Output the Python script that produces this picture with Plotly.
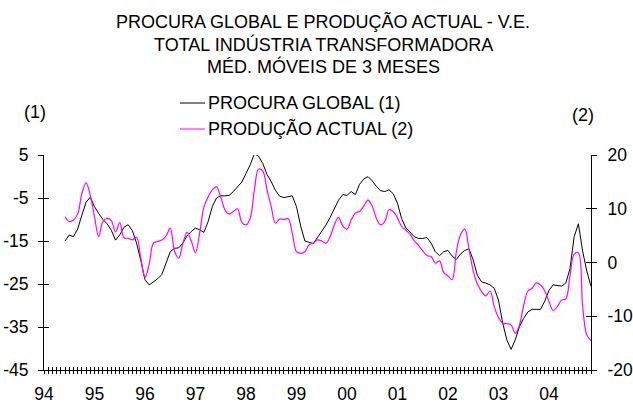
import plotly.graph_objects as go

# months since Jan 1994 (June 1994 .. Nov 2004)
months = list(range(5, 131))

procura_global = [
    -15, -13.6, -14, -12.2, -9, -6, -4.8,
    -7, -8.6, -10, -11, -12.5, -14.8, -13.6, -11.8, -11.2, -12.6, -15.5, -19.5,
    -24, -25.2, -24.5, -23.8, -22.8, -20, -17.5, -16.7, -16.6, -15.5, -13.8, -12.8,
    -12, -12.4, -13, -10.5, -7, -5, -4.5, -4.5, -4.4, -3.5, -2.5, -1.3,
    0.7, 2.7, 5.3, 4.7, 3, 0.5, -1.2, -3.2, -4.6, -4.9, -4.7, -4.5,
    -7, -11.5, -15, -15.3, -15.6, -14.2, -12.8, -11.3, -9.5, -7.5, -5.5, -4.2,
    -4.4, -3.5, -4.2, -1.8, -0.6, 0, -1, -2.3, -3.3, -3.5, -3.1, -4,
    -6.2, -9.8, -12, -12.9, -14, -14.4, -14.4, -14.2, -15.5, -17.5, -18.4, -17.5,
    -17.2, -18.5, -19.3, -18, -17.2, -16.8, -19.4, -23, -24.5, -24.8, -25.2, -26,
    -28.7, -34, -38, -40.2, -38, -34.9, -33, -31.5, -30.9, -30.9, -30.9, -29,
    -26.5, -25.2, -25.3, -25.5, -24.8, -21.5, -14, -11, -17.3, -22, -25.5,
]

producao_actual = [
    8.5, 7.6, 7.9, 9, 12.8, 14.8, 12.5,
    8.5, 4.8, 7.6, 8.2, 7.8, 5.7, 7.4, 4.6, 4.5, 4.2, 4.7, 0.8,
    -2.8, -0.3, 3.6, 3.9, 4.2, 4.9, 6.4, 2.2, 0.8, 3.5, 5.6, 4,
    1.8, 5.5, 10.3, 12.2, 13.5, 14.1, 12.2, 9.8, 9, 9.5, 10, 7.5,
    7, 8.2, 13.5, 17.4, 17, 13.5, 10.4, 7.3, 8.1, 8, 8.2, 5.5,
    2, 1.7, 2, 3.3, 3.6, 4.2, 4, 3.6, 4.8, 7, 8.4, 6.8,
    6.2, 7.9, 9.2, 9.5, 10.5, 11.6, 10.5, 8.2, 7, 7.6, 9.8, 9.5,
    8.3, 6.7, 6, 5.3, 4, 3.2, 2.2, 1.3, 1.1, -0.1, 0.3, -1.9,
    -2.5, -3.2, 2, 5.2, 6.2, 2.5, -1.5, -4, -5.4, -6.2, -5.3, -8.2,
    -10.2, -11.3, -11.4, -11.6, -13.2, -11.6, -8, -5.3, -4.8, -3.8, -4.2, -5.3,
    -7.2, -8.9, -8.2, -7, -6.8, -2.5, 1.5, 1.8, -8, -13.5, -14.5,
]

year_ticks = [0, 12, 24, 36, 48, 60, 72, 84, 96, 108, 120]
year_labels = ["94", "95", "96", "97", "98", "99", "00", "01", "02", "03", "04"]
left_ticks = [5, -5, -15, -25, -35, -45]
left_labels = ["5", "-5", "-15", "-25", "-35", "-45"]
right_ticks = [20, 10, 0, -10, -20]
right_labels = ["20", "10", "0", "-10", "-20"]

title_lines = ["PROCURA GLOBAL E PRODUÇÃO ACTUAL - V.E.",
               "TOTAL INDÚSTRIA TRANSFORMADORA",
               "MÉD. MÓVEIS DE 3 MESES"]
series_names = ["PROCURA GLOBAL (1)", "PRODUÇÃO ACTUAL (2)"]

FONT = "Liberation Sans, Arial, sans-serif"
FS = 18
TFS = 17.5
BLACK = "#000000"
MAGENTA = "#FF00FF"

W, H = 633, 403
# plot area in screen pixels: x 44..591, y 155..370
L = 44
R = W - 591
T = 155
B = H - 370
PW, PH = W - L - R, H - T - B


def px(xs):
    return (xs - L) / PW


def py(ys):
    return (H - B - ys) / PH


fig = go.Figure()
fig.add_trace(go.Scatter(x=months, y=procura_global, mode="lines",
                         line=dict(color=BLACK, width=1), name=series_names[0],
                         showlegend=False, hoverinfo="skip"))
fig.add_trace(go.Scatter(x=months, y=producao_actual, mode="lines", yaxis="y2",
                         line=dict(color=MAGENTA, width=1.2, shape="spline", smoothing=1),
                         name=series_names[1], showlegend=False, hoverinfo="skip"))
# empty helper traces so overlay axes (inner half of crossing ticks) are drawn
fig.add_trace(go.Scatter(x=[None], y=[None], xaxis="x2", yaxis="y", showlegend=False, hoverinfo="skip"))
fig.add_trace(go.Scatter(x=[None], y=[None], xaxis="x", yaxis="y3", showlegend=False, hoverinfo="skip"))
fig.add_trace(go.Scatter(x=[None], y=[None], xaxis="x", yaxis="y4", showlegend=False, hoverinfo="skip"))

xr = [0, 130]
fig.update_layout(
    width=W, height=H,
    margin=dict(l=L, r=R, t=T, b=B, pad=0, autoexpand=False),
    paper_bgcolor="white", plot_bgcolor="white",
    font=dict(family=FONT, size=FS, color=BLACK),
    showlegend=False,
    xaxis=dict(range=xr, tickvals=year_ticks, ticktext=year_labels, automargin=False,
               ticks="outside", ticklen=3, tickwidth=1, tickcolor=BLACK,
               minor=dict(dtick=1, tick0=0, ticks="outside", ticklen=3, tickwidth=1, tickcolor=BLACK),
               showline=True, linecolor=BLACK, linewidth=1, showgrid=False, zeroline=False,
               ticklabelstandoff=5, tickfont=dict(size=TFS)),
    xaxis2=dict(range=xr, overlaying="x", anchor="y", side="bottom", automargin=False,
                tickvals=year_ticks, ticks="inside", ticklen=3, tickwidth=1, tickcolor=BLACK,
                minor=dict(dtick=1, tick0=0, ticks="inside", ticklen=3, tickwidth=1, tickcolor=BLACK),
                showticklabels=False, showline=False, showgrid=False, zeroline=False),
    yaxis=dict(range=[-45, 5], tickvals=left_ticks, ticktext=left_labels,
               ticks="outside", ticklen=5, tickwidth=1,
               tickcolor=BLACK, showline=True, linecolor=BLACK, linewidth=1, automargin=False,
               showgrid=False, zeroline=False, ticklabelstandoff=6, tickfont=dict(size=TFS)),
    yaxis2=dict(range=[-20, 20], tickvals=right_ticks, ticktext=right_labels,
                overlaying="y", side="right", anchor="x",
                ticks="outside", ticklen=5, tickwidth=1, tickcolor=BLACK, automargin=False,
                showline=True, linecolor=BLACK, linewidth=1,
                showgrid=False, zeroline=False, ticklabelstandoff=7, tickfont=dict(size=TFS)),
    yaxis3=dict(range=[-45, 5], tickvals=left_ticks, overlaying="y", side="left", anchor="x",
                ticks="inside", ticklen=5, tickwidth=1, tickcolor=BLACK, automargin=False,
                showticklabels=False, showline=False, showgrid=False, zeroline=False),
    yaxis4=dict(range=[-20, 20], tickvals=right_ticks, overlaying="y", side="right", anchor="x",
                ticks="inside", ticklen=5, tickwidth=1, tickcolor=BLACK, automargin=False,
                showticklabels=False, showline=False, showgrid=False, zeroline=False),
)

anns = []
for ys, txt in zip([21, 44, 67], title_lines):
    anns.append(dict(x=px(323), y=py(ys), xref="paper", yref="paper", text=txt,
                     showarrow=False, xanchor="center", yanchor="middle",
                     font=dict(size=FS)))
anns.append(dict(x=px(35), y=py(112), xref="paper", yref="paper", text="(1)",
                 showarrow=False, xanchor="center", yanchor="middle", font=dict(size=FS)))
anns.append(dict(x=px(583), y=py(115), xref="paper", yref="paper", text="(2)",
                 showarrow=False, xanchor="center", yanchor="middle", font=dict(size=FS)))

shapes = []
for ys, name, col in zip([103, 129], series_names, [BLACK, MAGENTA]):
    shapes.append(dict(type="line", xref="paper", yref="paper",
                       x0=px(180), x1=px(205), y0=py(ys), y1=py(ys),
                       line=dict(color=col, width=1)))
    anns.append(dict(x=px(206), y=py(ys), xref="paper", yref="paper", text=name,
                     showarrow=False, xanchor="left", yanchor="middle", font=dict(size=FS)))

fig.update_layout(annotations=anns, shapes=shapes)
fig.write_html("out.html", config={"displayModeBar": False},
               post_script="document.body.style.margin='0';document.body.style.padding='0';")
